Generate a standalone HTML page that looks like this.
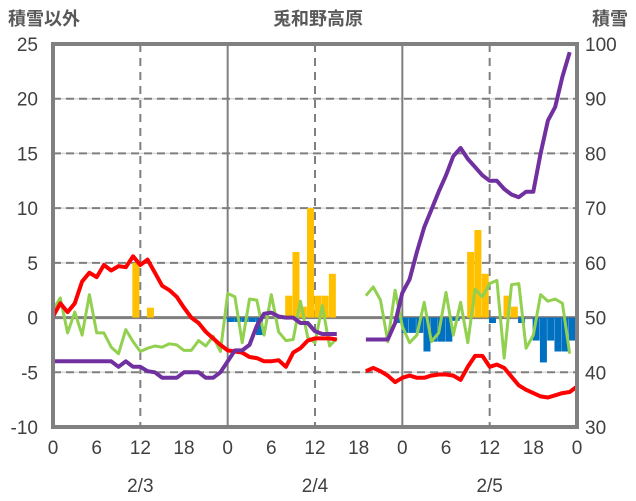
<!DOCTYPE html>
<html><head><meta charset="utf-8"><style>
body{margin:0;background:#fff;}
svg{display:block;font-family:"Liberation Sans","Noto Sans CJK JP",sans-serif;}
</style></head><body>
<svg id="chart" width="636" height="501">
<g id="grid"></g>
<g id="bars"></g>
<g id="lines"></g>
<g id="frame"></g>
<g id="labels"></g>
<text x="44" y="25" text-anchor="middle" font-size="18" font-weight="bold" fill="#595959">積雪以外</text>
<text x="318" y="25" text-anchor="middle" font-size="18" font-weight="bold" fill="#595959">兎和野高原</text>
<text x="610" y="25" text-anchor="middle" font-size="18" font-weight="bold" fill="#595959">積雪</text>
</svg>
<script>
const leftTicks=[25,20,15,10,5,0,-5,-10];
const rightTicks=[100,90,80,70,60,50,40,30];
const hourTicks=[0,6,12,18,0,6,12,18,0,6,12,18,0];
const dateLabels=["2/3","2/4","2/5"];
const N=null;
const temp=[0.1,1.3,0.5,1.3,3.3,4.1,3.7,4.8,4.3,4.7,4.6,5.6,4.8,5.3,4.1,2.9,2.5,1.9,0.9,0,-0.5,-1.3,-1.9,-2.5,
-3.0,-3.1,-3.2,-3.6,-3.7,-4.0,-4.0,-3.9,-4.5,-3.2,-2.8,-2.1,-1.9,-1.9,-1.9,-2.0,N,N,N,
-4.9,-4.6,-4.9,-5.3,-5.9,-5.5,-5.3,-5.5,-5.5,-5.3,-5.2,-5.2,-5.3,-5.7,-4.5,-3.5,-3.5,-4.5,-4.3,-4.6,-5.4,-6.2,-6.6,-6.9,-7.2,-7.3,-7.1,-6.9,-6.8,-6.3];
const wind=[0.7,1.8,-1.4,0.5,-1.6,2.1,-1.4,-1.4,-2.7,-3.3,-1.1,-2.2,-3.1,-2.8,-2.6,-2.7,-2.4,-2.5,-3.0,-3.0,-2.1,-2.6,-1.7,-3.1,
2.2,1.9,-2.3,1.7,1.6,-1.6,2.1,-1.3,-2.1,-2.0,1.5,-1.8,-2.3,1.1,-2.6,-1.9,N,N,N,
2.0,2.8,1.6,-2.2,2.5,-0.8,-2.3,-1.6,1.4,-2.2,-1.4,2.3,-1.6,1.4,-2.3,2.6,1.9,3.1,3.4,-3.7,3.0,3.1,-2.8,-1.6,2.1,1.5,1.7,1.3,-3.3];
const depth=[42,42,42,42,42,42,42,42,42,41,42,41,41,40.2,40,39,39,39,40,40,40,39,39,40,
42,44,44,45,48.5,50.7,50.9,50.2,50,50,49,49,47.5,47,47,47,N,N,N,
46,46,46,46,49,54.5,57,62,66.5,69.7,73,76,79.5,81,79,77.5,76,75,75,73.5,72.5,72,73,73,80,86,88.5,94,98.5];
const change=[0,0,0,0,0,0,0,0,0,0,0,5,0,0.9,0,0,0,0,0,0,0,0,0,0,
-0.4,-0.4,-0.4,-0.4,-1.6,0,0,0,2,6,1,10,2,2,4,0,0,0,0,
0,0,0,0,-0.5,-1.4,-1.4,-1.4,-3.1,-2.2,-2.2,-2.2,-0.3,0,6,8,4,-0.5,0,2,1,-0.5,0,-2.1,-4.1,-2.1,-3.1,-3.1,-2.1];
const X0=53,X1=577,Y0=44,Y1=427;
const x=h=>X0+h*(X1-X0)/72;
const yl=v=>Y0+(25-v)*(Y1-Y0)/35;
const yr=v=>Y0+(100-v)*(Y1-Y0)/70;
const NS="http://www.w3.org/2000/svg";
function mk(tag,attrs,parent){const e=document.createElementNS(NS,tag);for(const k in attrs)e.setAttribute(k,attrs[k]);parent.appendChild(e);return e;}
const grid=document.getElementById('grid'),bars=document.getElementById('bars'),lines=document.getElementById('lines'),frame=document.getElementById('frame'),labels=document.getElementById('labels');
leftTicks.forEach(v=>{if(v===25||v===-10||v===0)return;const yy=yl(v);
let l=mk('line',{x1:X0,x2:X1,y1:yy,y2:yy,stroke:'#d9d9d9','stroke-width':1.5},grid);


let d=mk('line',{x1:X0,x2:X1,y1:yy,y2:yy,stroke:'#7f7f7f','stroke-width':2,'stroke-dasharray':'8,5'},grid);

});
[12,24,36,48,60].forEach(h=>{const solid=h%24===0;
let l=mk('line',{x1:x(h),x2:x(h),y1:Y0,y2:Y1,stroke:'#7f7f7f','stroke-width':2,'stroke-dasharray':solid?'none':'8,6'},grid);

});
change.forEach((v,h)=>{if(!v)return;const y0=yl(0),y1=yl(v);
let r=mk('rect',{x:x(h)-0.7,width:7,y:Math.min(y0,y1),height:Math.abs(y1-y0),fill:v>0?'#ffc000':'#0070c0'},bars);

});
let z=mk('line',{x1:X0,x2:X1,y1:yl(0),y2:yl(0),stroke:'#7f7f7f','stroke-width':3},grid);


function path(arr,fy){let d='',pen=false;arr.forEach((v,h)=>{if(v===null){pen=false;return;}d+=(pen?'L':'M')+x(h).toFixed(1)+','+fy(v).toFixed(1);pen=true;});return d;}
let pw=mk('path',{d:path(wind,yl),fill:'none',stroke:'#92d050','stroke-width':3,'stroke-linejoin':'round'},lines);


let pt=mk('path',{d:path(temp,yl),fill:'none',stroke:'#ff0000','stroke-width':4,'stroke-linejoin':'round'},lines);


let pd=mk('path',{d:path(depth,yr),fill:'none',stroke:'#7030a0','stroke-width':4,'stroke-linejoin':'round'},lines);


let fr=mk('rect',{x:X0,y:Y0,width:X1-X0,height:Y1-Y0,fill:'none',stroke:'#808080','stroke-width':4},frame);


leftTicks.forEach(v=>{let t=mk('text',{x:38,y:yl(v)+7,'text-anchor':'end','font-size':19,fill:'#404040'},labels);t.textContent=v;

});
rightTicks.forEach(v=>{let t=mk('text',{x:585,y:yr(v)+7,'font-size':19,fill:'#404040'},labels);t.textContent=v;

});
hourTicks.forEach((v,i)=>{let t=mk('text',{x:x(i*6),y:454,'text-anchor':'middle','font-size':19,fill:'#404040'},labels);t.textContent=v;

});
dateLabels.forEach((v,i)=>{let t=mk('text',{x:x(12+24*i),y:492,'text-anchor':'middle','font-size':19,fill:'#404040'},labels);t.textContent=v;

});
</script>
</body></html>
